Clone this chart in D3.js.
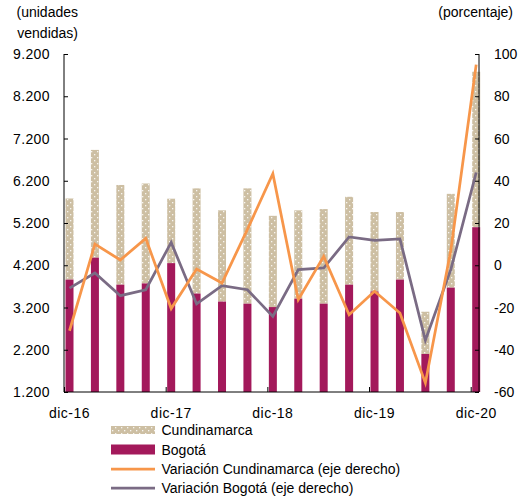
<!DOCTYPE html>
<html><head><meta charset="utf-8">
<script src="https://cdn.jsdelivr.net/npm/d3@7"></script>
<style>
body{margin:0;background:#fff;}
text{font-family:"Liberation Sans",Arial,sans-serif;fill:#000;}
</style></head>
<body><svg id="c" width="525" height="502"></svg>
<script>
const categories = ["dic-16","mar-17","jun-17","sep-17","dic-17","mar-18","jun-18","sep-18","dic-18","mar-19","jun-19","sep-19","dic-19","mar-20","jun-20","sep-20","dic-20"];
const tickLabels = ["dic-16","dic-17","dic-18","dic-19","dic-20"];
const bogota = [3860, 4380, 3740, 3770, 4250, 3530, 3340, 3290, 3210, 3410, 3290, 3740, 3580, 3860, 2100, 3670, 5100];
const cundinamarca = [1920, 2550, 2360, 2365, 1525, 2490, 2160, 2730, 2160, 2090, 2240, 2080, 1880, 1600, 1000, 2220, 3680];
const varCundinamarca = [-31, 10, 2.5, 12.7, -20.5, -1.8, -8.4, 17, 43.3, -16.3, 4.2, -23.4, -12.3, -22.6, -55.7, 7, 95];
const varBogota = [-10.8, -3.7, -14.4, -11.6, 10.8, -18.3, -9.7, -11.6, -24.2, -2.1, -1.3, 13.4, 11.8, 12.5, -35.5, -2.1, 43.9];
const leftTicks = [1200, 2200, 3200, 4200, 5200, 6200, 7200, 8200, 9200];
const rightTicks = [-60, -40, -20, 0, 20, 40, 60, 80, 100];

const C_BOG = "#A3195B", C_CUN = "#CDBFA3", C_OR = "#F7964A", C_GR = "#7A6B84";
const svg = d3.select("#c");
const xL = 64, xR = 479, yT = 54, yB = 392, bw = 8;

const defs = svg.append("defs");
const pat = defs.append("pattern").attr("id","dots").attr("patternUnits","userSpaceOnUse")
  .attr("width",6).attr("height",6);
pat.append("rect").attr("width",6).attr("height",6).attr("fill",C_CUN);
pat.append("rect").attr("x",1).attr("y",1).attr("width",1.3).attr("height",1.3).attr("fill","#fff").attr("opacity",0.85);
pat.append("rect").attr("x",4).attr("y",4).attr("width",1.3).attr("height",1.3).attr("fill","#fff").attr("opacity",0.85);

const x = d3.scalePoint().domain(categories).range([69.5, 476.2]);
const yL = d3.scaleLinear().domain([1200, 9200]).range([yB, yT]);
const yR = d3.scaleLinear().domain([-60, 100]).range([yB, yT]);

// bars
const g = svg.append("g");
categories.forEach((c, i) => {
  const top = bogota[i] + cundinamarca[i];
  g.append("rect").attr("x", x(c) - bw/2).attr("width", bw)
    .attr("y", yL(top)).attr("height", yL(bogota[i]) - yL(top)).attr("fill", "url(#dots)");
  g.append("rect").attr("x", x(c) - bw/2).attr("width", bw)
    .attr("y", yL(bogota[i])).attr("height", yL(1200) - yL(bogota[i])).attr("fill", C_BOG);
});

// lines
const line = d3.line().x((d, i) => x(categories[i])).y(d => yR(d));
svg.append("path").datum(varBogota).attr("d", line).attr("fill","none")
  .attr("stroke", C_GR).attr("stroke-width", 2.75).attr("stroke-linejoin","miter");
svg.append("path").datum(varCundinamarca).attr("d", line).attr("fill","none")
  .attr("stroke", C_OR).attr("stroke-width", 2.75).attr("stroke-linejoin","miter");

// axes
const axL = svg.append("g").attr("transform", `translate(${xL},0)`)
  .call(d3.axisRight(yL).tickValues(leftTicks).tickSize(4).tickFormat(""));
axL.select(".domain").attr("d", `M0,${yT}V${yB}`);
const axR = svg.append("g").attr("transform", `translate(${xR},0)`)
  .call(d3.axisLeft(yR).tickValues(rightTicks).tickSize(4).tickFormat(""));
axR.select(".domain").attr("d", `M0,${yT}V${yB}`);
const tickCats = categories.filter(c => tickLabels.includes(c));
const xTickScale = d3.scaleLinear().domain([69.5, 476.2]).range([69.5 - 5, 476.2 - 5]);
svg.append("line").attr("x1", xL).attr("x2", xR).attr("y1", yB).attr("y2", yB).attr("stroke","#000");
tickCats.forEach(c => {
  const px = xTickScale(x(c));
  svg.append("line").attr("x1", px).attr("x2", px).attr("y1", yB).attr("y2", yB - 5).attr("stroke","#000");
});
svg.selectAll(".domain, .tick line").attr("stroke","#000");

// tick labels
const fmt = v => d3.format(",")(v).replace(/,/g, ".");
leftTicks.forEach(v => svg.append("text").attr("x", 50).attr("y", yL(v)).attr("dy","0.36em")
  .attr("text-anchor","end").attr("font-size",14).attr("letter-spacing","0.4px").text(fmt(v)));
rightTicks.forEach(v => svg.append("text").attr("x", 494).attr("y", yR(v)).attr("dy","0.36em")
  .attr("text-anchor","start").attr("font-size",14).text(v));
tickCats.forEach(c => svg.append("text").attr("x", x(c)).attr("y", 418)
  .attr("text-anchor","middle").attr("font-size",14).attr("letter-spacing","0.5px").text(c));

// axis titles
svg.append("text").attr("x", 78).attr("y", 17).attr("text-anchor","end").attr("font-size",14).text("(unidades");
svg.append("text").attr("x", 78).attr("y", 38).attr("text-anchor","end").attr("font-size",14).text("vendidas)");
svg.append("text").attr("x", 513).attr("y", 17).attr("text-anchor","end").attr("font-size",14).text("(porcentaje)");

// legend
const lg = svg.append("g");
const items = [
  {t:"Cundinamarca", type:"pat", y:430},
  {t:"Bogotá", type:"bar", y:449.5},
  {t:"Variación Cundinamarca (eje derecho)", type:"lineO", y:469},
  {t:"Variación Bogotá (eje derecho)", type:"lineG", y:488}
];
items.forEach(it => {
  if (it.type === "pat") lg.append("rect").attr("x",111).attr("y",it.y-4).attr("width",44).attr("height",8).attr("fill","url(#dots)");
  if (it.type === "bar") lg.append("rect").attr("x",111).attr("y",it.y-5).attr("width",44).attr("height",10).attr("fill",C_BOG);
  if (it.type === "lineO") lg.append("line").attr("x1",111).attr("x2",155).attr("y1",it.y).attr("y2",it.y).attr("stroke",C_OR).attr("stroke-width",2.75);
  if (it.type === "lineG") lg.append("line").attr("x1",111).attr("x2",155).attr("y1",it.y).attr("y2",it.y).attr("stroke",C_GR).attr("stroke-width",2.75);
  lg.append("text").attr("x",161.5).attr("y",it.y).attr("dy","0.36em").attr("font-size",14).text(it.t);
});
</script></body></html>
